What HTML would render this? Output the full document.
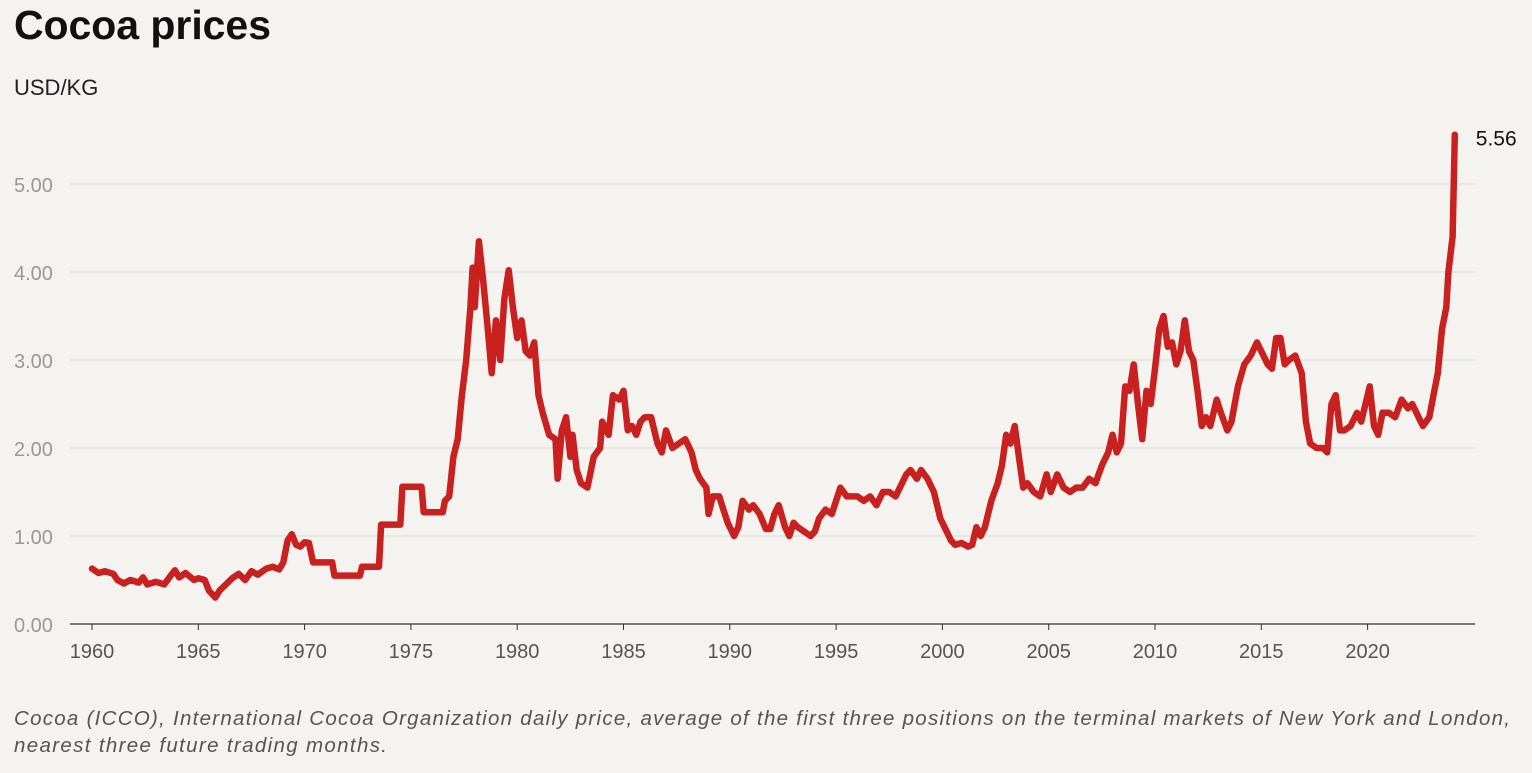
<!DOCTYPE html>
<html><head><meta charset="utf-8"><style>
body{margin:0;background:#f4f3ef;width:1532px;height:768px;overflow:hidden;font-family:"Liberation Sans",sans-serif;}
</style></head><body>
<svg width="1532" height="768">
<text x="14" y="39" font-size="41" font-weight="bold" fill="#111" textLength="257">Cocoa prices</text>
<text x="14" y="95" font-size="22" fill="#222">USD/KG</text>
<g id="grid"></g><g id="xt"></g>
<path id="line" fill="none" stroke="#c82120" stroke-width="6.5" stroke-linejoin="round" stroke-linecap="round"/>
<text id="endlbl" font-size="21" fill="#111"></text>
<text x="14" y="725" font-size="20.5" font-style="italic" fill="#555" textLength="1496">Cocoa (ICCO), International Cocoa Organization daily price, average of the first three positions on the terminal markets of New York and London,</text>
<text x="14" y="752" font-size="20.5" font-style="italic" fill="#555" textLength="373">nearest three future trading months.</text>
</svg>
<script>
const yTicks=[0,1,2,3,4,5];
const xTicks=[1960,1965,1970,1975,1980,1985,1990,1995,2000,2005,2010,2015,2020];
const years=[1960,1960.3,1960.6,1961,1961.2,1961.5,1961.8,1962.2,1962.4,1962.6,1963,1963.4,1963.7,1963.9,1964.1,1964.4,1964.8,1965,1965.3,1965.5,1965.8,1966,1966.3,1966.6,1966.9,1967.2,1967.5,1967.8,1968.2,1968.5,1968.8,1969,1969.2,1969.4,1969.6,1969.8,1970,1970.2,1970.4,1971,1971.3,1971.4,1972,1972.6,1972.7,1973,1973.5,1973.6,1974,1974.5,1974.6,1975,1975.5,1975.6,1976,1976.5,1976.6,1976.8,1977,1977.2,1977.4,1977.6,1977.8,1977.9,1978,1978.2,1978.4,1978.6,1978.8,1979,1979.2,1979.4,1979.6,1979.8,1980,1980.2,1980.4,1980.6,1980.8,1981,1981.2,1981.5,1981.8,1981.9,1982.1,1982.3,1982.5,1982.6,1982.8,1983,1983.3,1983.6,1983.9,1984,1984.3,1984.5,1984.8,1985,1985.2,1985.4,1985.6,1985.8,1986,1986.3,1986.6,1986.8,1987,1987.3,1987.6,1987.9,1988.2,1988.4,1988.6,1988.9,1989,1989.2,1989.5,1989.7,1989.9,1990.2,1990.4,1990.6,1990.9,1991.1,1991.4,1991.7,1991.9,1992.1,1992.3,1992.6,1992.8,1993,1993.2,1993.5,1993.8,1994,1994.2,1994.5,1994.8,1995,1995.2,1995.5,1995.8,1996,1996.3,1996.6,1996.9,1997.2,1997.5,1997.8,1998,1998.3,1998.5,1998.8,1999,1999.3,1999.6,1999.9,2000.2,2000.4,2000.6,2000.9,2001.2,2001.4,2001.6,2001.8,2002,2002.3,2002.6,2002.8,2003,2003.2,2003.4,2003.6,2003.8,2004,2004.3,2004.6,2004.9,2005.1,2005.4,2005.7,2006,2006.3,2006.6,2006.9,2007.2,2007.5,2007.8,2008,2008.2,2008.4,2008.6,2008.8,2009,2009.2,2009.4,2009.6,2009.8,2010,2010.2,2010.4,2010.6,2010.8,2011,2011.2,2011.4,2011.6,2011.8,2012,2012.2,2012.4,2012.6,2012.9,2013.1,2013.4,2013.6,2013.9,2014.2,2014.5,2014.8,2015,2015.3,2015.5,2015.7,2015.9,2016.1,2016.3,2016.6,2016.9,2017.1,2017.3,2017.6,2017.9,2018.1,2018.3,2018.5,2018.7,2018.9,2019.2,2019.5,2019.7,2019.9,2020.1,2020.3,2020.5,2020.7,2021,2021.3,2021.6,2021.9,2022.1,2022.4,2022.6,2022.9,2023.1,2023.3,2023.5,2023.7,2023.8,2024,2024.1];
const prices=[0.63,0.58,0.6,0.57,0.5,0.46,0.5,0.47,0.53,0.45,0.48,0.45,0.55,0.61,0.53,0.58,0.5,0.52,0.5,0.38,0.3,0.38,0.45,0.52,0.57,0.5,0.6,0.56,0.63,0.65,0.62,0.7,0.95,1.02,0.9,0.88,0.93,0.92,0.7,0.7,0.7,0.55,0.55,0.55,0.65,0.65,0.65,1.13,1.13,1.13,1.56,1.56,1.56,1.27,1.27,1.27,1.4,1.45,1.9,2.1,2.6,3.0,3.6,4.05,3.6,4.35,3.9,3.4,2.85,3.45,3.0,3.7,4.02,3.6,3.25,3.45,3.1,3.05,3.2,2.6,2.4,2.15,2.1,1.65,2.2,2.35,1.9,2.15,1.75,1.6,1.55,1.9,2.0,2.3,2.15,2.6,2.55,2.65,2.2,2.25,2.15,2.3,2.35,2.35,2.05,1.95,2.2,2.0,2.05,2.1,1.95,1.75,1.65,1.55,1.25,1.45,1.45,1.3,1.15,1.0,1.1,1.4,1.3,1.35,1.25,1.08,1.08,1.25,1.35,1.1,1.0,1.15,1.1,1.05,1.0,1.05,1.2,1.3,1.25,1.4,1.55,1.45,1.45,1.45,1.4,1.45,1.35,1.5,1.5,1.45,1.55,1.7,1.75,1.65,1.75,1.65,1.5,1.2,1.05,0.95,0.9,0.92,0.88,0.9,1.1,1.0,1.1,1.4,1.6,1.8,2.15,2.05,2.25,1.9,1.55,1.6,1.5,1.45,1.7,1.5,1.7,1.55,1.5,1.55,1.55,1.65,1.6,1.8,1.95,2.15,1.95,2.05,2.7,2.65,2.95,2.5,2.1,2.65,2.5,2.9,3.35,3.5,3.15,3.2,2.95,3.1,3.45,3.1,3.0,2.65,2.25,2.35,2.25,2.55,2.4,2.2,2.3,2.7,2.95,3.05,3.2,3.1,2.95,2.9,3.25,3.25,2.95,3.0,3.05,2.85,2.3,2.05,2.0,2.0,1.95,2.5,2.6,2.2,2.2,2.25,2.4,2.3,2.5,2.7,2.25,2.15,2.4,2.4,2.35,2.55,2.45,2.5,2.35,2.25,2.35,2.6,2.85,3.35,3.6,4.0,4.4,5.56];
const X=y=>92+(y-1960)*21.26, Y=v=>624-v*88;
const ns="http://www.w3.org/2000/svg";
const grid=document.getElementById('grid'), xt=document.getElementById('xt');
yTicks.forEach(t=>{
 const l=document.createElementNS(ns,'line');
 
 
 l.setAttribute('x1',70);l.setAttribute('x2',1475);l.setAttribute('y1',Y(t));l.setAttribute('y2',Y(t));
 l.setAttribute('stroke',t===0?'#333':'#e2e1dd');l.setAttribute('stroke-width',t===0?1.2:1.5);
 grid.appendChild(l);
 const tx=document.createElementNS(ns,'text');
 
 
 tx.setAttribute('x',14);tx.setAttribute('y',Y(t)+8);tx.setAttribute('font-size','20');tx.setAttribute('fill','#999');
 tx.textContent=t.toFixed(2);grid.appendChild(tx);
});
xTicks.forEach(t=>{
 const l=document.createElementNS(ns,'line');
 
 
 l.setAttribute('x1',X(t));l.setAttribute('x2',X(t));l.setAttribute('y1',624);l.setAttribute('y2',630);l.setAttribute('stroke','#333');
 xt.appendChild(l);
 const tx=document.createElementNS(ns,'text');
 
 
 tx.setAttribute('x',X(t));tx.setAttribute('y',658);tx.setAttribute('font-size','20');tx.setAttribute('fill','#555');tx.setAttribute('text-anchor','middle');
 tx.textContent=t;xt.appendChild(tx);
});
document.getElementById('line').setAttribute('d',years.map((y,i)=>(i?'L':'M')+X(y).toFixed(1)+','+Y(prices[i]).toFixed(1)).join(''));
const e=document.getElementById('endlbl'),n=years.length-1;
e.setAttribute('x',X(years[n])+21);e.setAttribute('y',Y(prices[n])+11);e.textContent=prices[n].toFixed(2);
</script>
</body></html>
